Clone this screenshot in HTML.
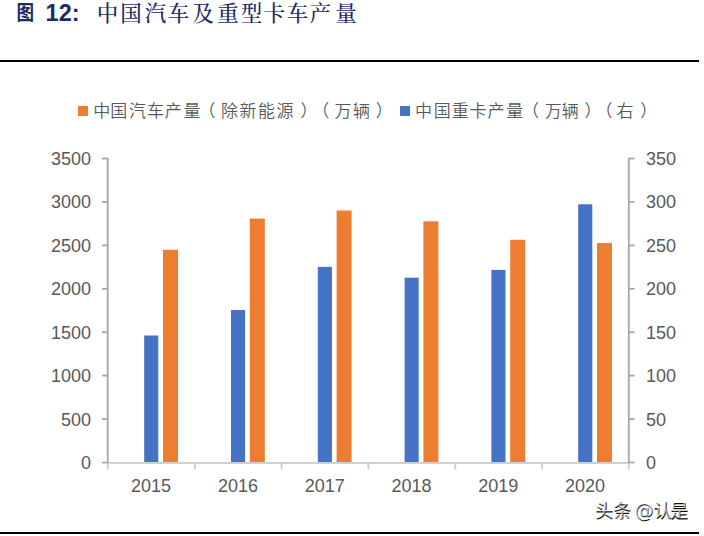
<!DOCTYPE html>
<html lang="zh-CN">
<head>
<meta charset="utf-8">
<style>
  html, body { margin:0; padding:0; background:#fff; }
  body { width:704px; height:536px; overflow:hidden; position:relative; }
  .tt { font-family:"Liberation Serif","Noto Serif CJK SC",serif; font-size:21.5px; font-weight:500; fill:#1c2b66; }
  .hr { position:absolute; left:0; width:699px; height:2px; background:#000; }
  svg { position:absolute; left:0; top:0; }
  .ax { font-family:"Liberation Sans",sans-serif; font-size:18px; fill:#595959; }
  .lg { font-family:"Liberation Sans","Noto Sans CJK SC",sans-serif; font-size:17px; fill:#595959; font-weight:350; text-spacing-trim:space-all; }
</style>
</head>
<body>
<div class="hr" style="top:60px"></div>
<div class="hr" style="top:532px"></div>

<svg width="704" height="536" viewBox="0 0 704 536">
  <!-- title -->
  <text transform="translate(16.6,19.8) scale(0.86,1)" x="0" y="0" font-family="Noto Sans CJK SC, sans-serif" font-weight="700" font-size="20.5" fill="#1c2b66">图</text>
  <text x="45.6" y="21" font-family="Liberation Sans, sans-serif" font-weight="700" font-size="23.5" fill="#1c2b66">12:</text>
  <text class="tt" x="96.75 120.25 144.75 167.85 192.25 217.35 240.75 263.55 286.65 309.55 335.15" y="21.2">中国汽车及重型卡车产量</text>
  <!-- legend -->
  <rect x="78" y="106" width="10" height="10" fill="#ED7D31"/>
  <text class="lg" x="93.3 110.3 129 147 164.8 183.6 198.6 221 239.5 258 276.4 300.5 312.3 334.6 353 375.8" y="117">中国汽车产量（除新能源）（万辆）</text>
  <rect x="400" y="106" width="10" height="10" fill="#4472C4"/>
  <text class="lg" x="414.9 433.8 451.7 469.5 487.4 506.3 521.9 544.8 561.7 584.6 595.5 616.4 640.3" y="117">中国重卡产量（万辆）（右）</text>

  <!-- bars -->
  <g fill="#4472C4">
    <rect x="144.2" y="335.5" width="14.1" height="127"/>
    <rect x="231.0" y="310.0" width="14.1" height="152.5"/>
    <rect x="317.8" y="266.9" width="14.1" height="195.6"/>
    <rect x="404.6" y="277.7" width="14.1" height="184.8"/>
    <rect x="491.4" y="269.9" width="14.1" height="192.6"/>
    <rect x="578.2" y="204.3" width="14.1" height="258.2"/>
  </g>
  <g fill="#ED7D31">
    <rect x="163.0" y="249.8" width="15" height="212.7"/>
    <rect x="249.8" y="218.6" width="15" height="243.9"/>
    <rect x="336.6" y="210.5" width="15" height="252"/>
    <rect x="423.4" y="221.3" width="15" height="241.2"/>
    <rect x="510.2" y="239.8" width="15" height="222.7"/>
    <rect x="597.0" y="243.1" width="15" height="219.4"/>
  </g>

  <!-- x axis -->
  <g stroke="#d0d0d0" stroke-width="2" fill="none">
    <line x1="107" y1="463" x2="629" y2="463"/>
    <line x1="194.8" y1="462" x2="194.8" y2="469.5"/>
    <line x1="281.6" y1="462" x2="281.6" y2="469.5"/>
    <line x1="368.4" y1="462" x2="368.4" y2="469.5"/>
    <line x1="455.2" y1="462" x2="455.2" y2="469.5"/>
    <line x1="542.0" y1="462" x2="542.0" y2="469.5"/>
    <line x1="628.8" y1="462" x2="628.8" y2="469.5"/>
    <line x1="107.7" y1="462" x2="107.7" y2="469.5"/>
  </g>

  <!-- y axes -->
  <g stroke="#a6a6a6" stroke-width="1.8" fill="none">
    <line x1="107.7" y1="158" x2="107.7" y2="463"/>
    <line x1="102" y1="158.5" x2="108" y2="158.5"/>
    <line x1="102" y1="201.9" x2="108" y2="201.9"/>
    <line x1="102" y1="245.4" x2="108" y2="245.4"/>
    <line x1="102" y1="288.8" x2="108" y2="288.8"/>
    <line x1="102" y1="332.2" x2="108" y2="332.2"/>
    <line x1="102" y1="375.6" x2="108" y2="375.6"/>
    <line x1="102" y1="419.1" x2="108" y2="419.1"/>
    <line x1="102" y1="462.5" x2="108" y2="462.5"/>

    <line x1="628.8" y1="158" x2="628.8" y2="463"/>
    <line x1="628" y1="158.5" x2="634.5" y2="158.5"/>
    <line x1="628" y1="201.9" x2="634.5" y2="201.9"/>
    <line x1="628" y1="245.4" x2="634.5" y2="245.4"/>
    <line x1="628" y1="288.8" x2="634.5" y2="288.8"/>
    <line x1="628" y1="332.2" x2="634.5" y2="332.2"/>
    <line x1="628" y1="375.6" x2="634.5" y2="375.6"/>
    <line x1="628" y1="419.1" x2="634.5" y2="419.1"/>
    <line x1="628" y1="462.5" x2="634.5" y2="462.5"/>
  </g>

  <!-- left labels -->
  <g class="ax" text-anchor="end">
    <text x="91" y="165">3500</text>
    <text x="91" y="208.4">3000</text>
    <text x="91" y="251.9">2500</text>
    <text x="91" y="295.3">2000</text>
    <text x="91" y="338.7">1500</text>
    <text x="91" y="382.1">1000</text>
    <text x="91" y="425.6">500</text>
    <text x="91" y="469">0</text>
  </g>
  <!-- right labels -->
  <g class="ax" text-anchor="start">
    <text x="646" y="165">350</text>
    <text x="646" y="208.4">300</text>
    <text x="646" y="251.9">250</text>
    <text x="646" y="295.3">200</text>
    <text x="646" y="338.7">150</text>
    <text x="646" y="382.1">100</text>
    <text x="646" y="425.6">50</text>
    <text x="646" y="469">0</text>
  </g>
  <!-- category labels -->
  <g class="ax" text-anchor="middle">
    <text x="151.1" y="492">2015</text>
    <text x="237.9" y="492">2016</text>
    <text x="324.7" y="492">2017</text>
    <text x="411.5" y="492">2018</text>
    <text x="498.3" y="492">2019</text>
    <text x="585.1" y="492">2020</text>
  </g>
  <!-- watermark -->
  <g font-family="Liberation Sans, Noto Sans CJK SC, sans-serif" font-size="18">
    <text x="595.5 613.5 635 654 670.5" y="517.6" fill="#111" font-weight="500">头条<tspan font-size="19" font-family="DejaVu Sans, sans-serif">@</tspan>认是</text>
    <text x="595 613 634.5 653.5 670" y="516.8" fill="#fff" fill-opacity="0.7" font-weight="400">头条<tspan font-size="19" font-family="DejaVu Sans, sans-serif">@</tspan>认是</text>
  </g>
</svg>
</body>
</html>
